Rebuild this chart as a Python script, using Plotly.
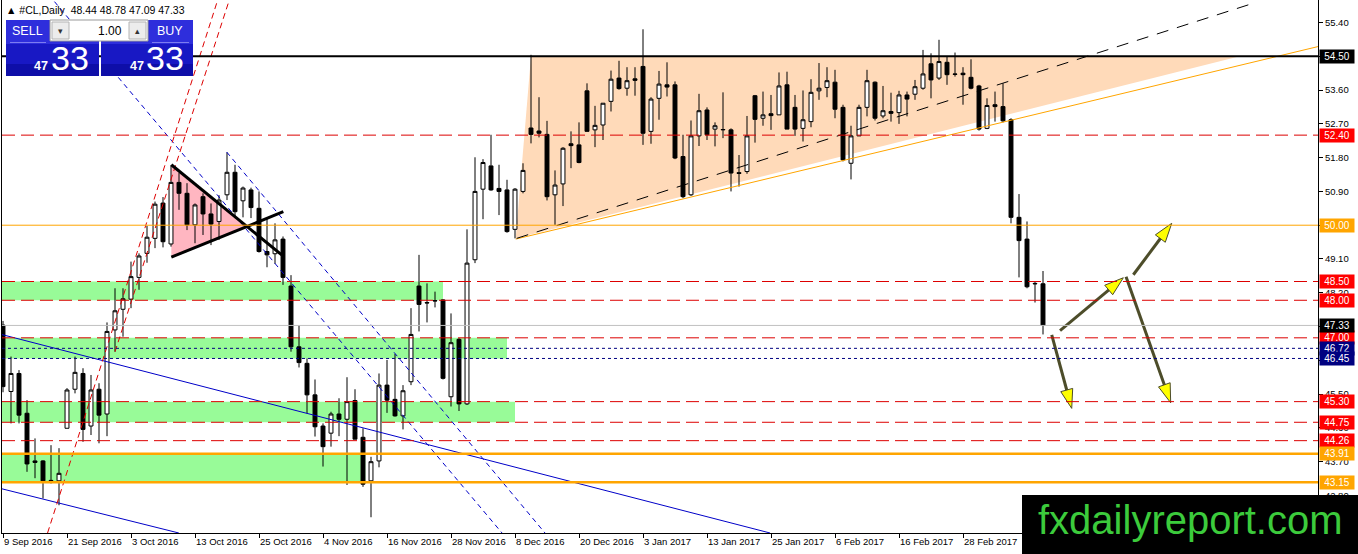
import plotly.graph_objects as go

# ---- daily bars, bar 0 = 9 Sep 2016, last bar = 48.44 48.78 47.09 47.33
OPEN = [47.34, 45.57, 46.05, 44.99, 43.72, 43.72, 43.19, 43.19, 44.59, 45.63,
        46.05, 44.65, 45.63, 44.97, 47.21, 47.76, 48.03, 48.61, 49.25, 49.65,
        50.59, 49.50, 51.14, 50.85, 50.01, 50.76, 50.30, 50.10, 50.81, 51.41,
        50.65, 50.94, 50.45, 49.30, 49.24, 49.63, 48.38, 46.76, 46.32, 45.48,
        44.65, 44.46, 44.97, 44.83, 45.33, 44.35, 43.19, 43.72, 45.74, 45.36,
        44.92, 45.83, 48.38, 47.94, 47.98, 48.01, 45.43, 46.96, 45.24, 49.08,
        50.96, 51.58, 50.98, 50.94, 49.89, 50.90, 52.59, 52.51, 52.42, 50.81,
        51.10, 52.17, 52.14, 53.58, 52.54, 52.67, 53.30, 53.92, 53.65, 53.90,
        54.23, 52.50, 53.38, 53.74, 53.74, 51.83, 50.81, 52.38, 53.07, 52.56,
        52.54, 52.54, 51.40, 51.43, 53.45, 52.85, 52.97, 52.94, 53.74, 53.14,
        52.58, 52.76, 53.58, 53.67, 53.81, 53.14, 51.65, 52.38, 53.14, 53.81,
        52.91, 53.03, 53.00, 53.47, 53.49, 53.65, 54.30, 53.92, 54.34, 54.03,
        54.05, 53.94, 53.71, 52.58, 53.21, 53.16, 52.81, 50.21, 49.63, 48.45,
        48.44]
HIGH = [47.45, 46.50, 46.14, 45.34, 44.32, 43.74, 44.14, 44.06, 45.66, 46.50,
        46.19, 46.01, 45.79, 47.41, 48.32, 48.32, 49.03, 49.25, 49.98, 50.63,
        50.75, 51.60, 51.39, 51.12, 50.58, 50.85, 50.58, 50.80, 51.94, 51.61,
        51.03, 51.00, 50.90, 50.19, 50.05, 49.70, 48.67, 47.34, 46.45, 45.89,
        44.72, 45.03, 45.39, 45.95, 45.63, 44.59, 43.83, 46.05, 46.41, 46.57,
        45.74, 47.79, 49.21, 48.45, 48.23, 48.03, 47.65, 46.99, 49.89, 51.81,
        51.76, 52.41, 51.61, 51.21, 50.99, 51.65, 54.54, 53.41, 52.78, 51.46,
        52.08, 52.50, 52.74, 53.78, 53.18, 53.25, 54.12, 54.38, 54.21, 54.21,
        55.22, 53.41, 54.11, 54.34, 53.83, 52.41, 52.79, 53.50, 53.14, 52.74,
        53.54, 52.58, 51.87, 52.91, 53.47, 53.56, 53.47, 54.07, 54.09, 53.47,
        53.59, 53.89, 54.32, 54.21, 54.14, 53.21, 52.65, 53.21, 54.14, 53.83,
        53.71, 53.53, 53.58, 53.56, 53.87, 54.67, 54.58, 54.94, 54.49, 54.60,
        54.21, 54.42, 53.74, 53.38, 53.56, 53.78, 52.85, 50.83, 50.10, 48.50,
        48.78]
LOW = [45.55, 44.72, 44.72, 43.43, 43.26, 42.72, 43.12, 42.54, 44.59, 45.52,
       44.23, 44.41, 44.19, 44.38, 46.63, 47.03, 47.79, 48.28, 49.00, 49.39,
       49.41, 49.43, 50.41, 49.87, 49.52, 49.74, 49.47, 49.61, 50.67, 50.23,
       50.21, 50.19, 49.27, 48.88, 48.97, 48.41, 46.63, 46.21, 44.99, 44.37,
       43.57, 44.10, 44.38, 43.08, 44.30, 43.03, 42.22, 43.55, 45.00, 44.90,
       44.56, 45.74, 47.17, 47.41, 47.81, 45.89, 45.17, 45.05, 45.21, 48.99,
       50.16, 50.92, 50.27, 49.80, 49.65, 50.85, 52.18, 52.34, 50.66, 50.01,
       50.51, 51.52, 51.65, 52.50, 52.08, 52.27, 53.03, 53.61, 53.45, 53.45,
       52.14, 52.17, 52.81, 53.43, 51.76, 50.72, 50.78, 52.11, 52.27, 52.10,
       52.32, 50.90, 51.03, 51.37, 52.20, 52.65, 52.54, 52.94, 52.56, 52.38,
       52.23, 52.61, 53.34, 53.41, 52.85, 51.70, 51.22, 52.38, 52.90, 52.79,
       52.85, 52.76, 52.70, 52.90, 53.34, 53.61, 53.38, 53.87, 53.74, 53.96,
       53.21, 53.62, 52.52, 52.56, 52.76, 52.74, 50.05, 48.61, 48.32, 47.94,
       47.09]
CLOSE = [45.70, 46.05, 44.94, 43.64, 43.68, 43.19, 43.20, 43.39, 45.61, 46.08,
         44.56, 45.61, 44.94, 47.17, 47.72, 48.04, 48.63, 49.18, 49.68, 50.56,
         49.56, 51.14, 50.85, 50.01, 50.54, 50.30, 50.03, 50.67, 51.41, 50.36,
         50.99, 50.47, 49.30, 49.21, 49.61, 48.61, 46.76, 46.34, 45.48, 44.63,
         44.10, 44.97, 44.83, 45.30, 44.30, 43.10, 43.70, 45.74, 45.34, 44.92,
         45.59, 47.09, 47.89, 47.93, 47.99, 45.92, 46.87, 45.24, 48.99, 50.90,
         51.67, 50.94, 50.90, 49.83, 50.96, 51.46, 52.42, 52.45, 50.76, 51.07,
         52.05, 52.12, 51.67, 52.50, 52.66, 53.25, 53.89, 53.64, 53.85, 53.86,
         52.45, 53.36, 53.76, 53.68, 51.79, 50.76, 52.38, 53.05, 52.41, 52.65,
         52.55, 51.39, 51.38, 52.38, 52.82, 52.94, 52.92, 53.71, 52.56, 52.56,
         52.81, 53.54, 53.65, 53.85, 53.09, 51.74, 52.38, 53.14, 53.85, 52.85,
         53.05, 52.98, 53.47, 53.36, 53.69, 54.03, 53.87, 54.36, 54.01, 54.02,
         54.01, 53.65, 52.56, 53.19, 53.16, 52.78, 50.21, 49.59, 48.36, 48.44,
         47.33]

TICK_BARS = [0, 8, 16, 24, 32, 40, 48, 56, 64, 72, 80, 88, 96, 104, 112, 120]
TICK_LABELS = ['9 Sep 2016', '21 Sep 2016', '3 Oct 2016', '13 Oct 2016',
               '25 Oct 2016', '4 Nov 2016', '16 Nov 2016', '28 Nov 2016',
               '8 Dec 2016', '20 Dec 2016', '3 Jan 2017', '13 Jan 2017',
               '25 Jan 2017', '6 Feb 2017', '16 Feb 2017', '28 Feb 2017']
PRICE_TICKS = [55.40, 54.50, 53.60, 52.70, 51.80, 50.90, 50.00, 49.10, 48.20,
               47.30, 46.40, 45.50, 44.60, 43.70, 42.80]

# horizontal levels
BLACK_LEVELS = [54.50]
RED_LEVELS = [52.40, 48.50, 48.00, 47.00, 45.30, 44.75, 44.26]
ORANGE_THIN = [50.00]
ORANGE_THICK = [43.91, 43.15]
NAVY_LEVELS = [46.72, 46.45]
LAST_PRICE = 47.33

# green zones: low, high, last bar covered
GREEN_LO = [48.00, 46.45, 44.75, 43.15]
GREEN_HI = [48.50, 47.00, 45.30, 43.91]
GREEN_END = [55.0, 63.0, 64.0, 45.3]

# drawn objects: (bar0, price0, bar1, price1)
BLUE_DASHED = [(5.71, 56.14, 62.38, 41.80), (27.96, 51.95, 67.75, 41.80)]
BLUE_SOLID = [(-0.38, 47.10, 95.88, 41.80), (-0.38, 42.99, 21.98, 41.80)]
RED_STEEP = [(5.57, 41.80, 27.24, 56.27), (14.0, 46.63, 28.7, 56.27)]
WEDGE_LINES = [(21.04, 51.61, 34.84, 49.21), (21.04, 49.15, 35.04, 50.36)]
PINK_K = [21.04, 30.49, 21.04]
PINK_P = [51.61, 49.97, 49.15]
PEACH_K = [66.0, 154.6, 64.09]
PEACH_P = [54.50, 54.50, 49.65]
ORANGE_TREND = (64.09, 49.63, 164.4, 54.76)
BLACK_TREND = (64.21, 49.65, 156.1, 55.90)
ARROWS = [(131.09, 47.08, 133.59, 45.12), (132.13, 47.19, 140.04, 48.60),
          (141.29, 48.68, 146.09, 50.05), (140.38, 48.63, 145.96, 45.27)]

W, H = 1358, 554
ML, MR, MT, MB = 2, 40, 0, 21
PW, PH = W - ML - MR, H - MT - MB
FONT = 'Liberation Sans, DejaVu Sans, Arial, sans-serif'
RED = '#DD0000'
ORANGE = '#FFA500'
NAVY = '#000080'
BLUE = '#0000C8'


def px(x):
    return (x - ML) / PW


def py(y):
    return (PH + MT - y) / PH


fig = go.Figure()
shapes = []
annotations = []

# fills behind the candles
for lo, hi, end in zip(GREEN_LO, GREEN_HI, GREEN_END):
    shapes.append(dict(type='rect', xref='x', yref='y', x0=-2, x1=end,
                       y0=lo, y1=hi, fillcolor='#98FB98', line_width=0,
                       layer='below'))


def poly(ks, ps):
    pts = ' L'.join(f'{k},{p}' for k, p in zip(ks, ps))
    return 'M' + pts + ' Z'


shapes.append(dict(type='path', xref='x', yref='y', path=poly(PEACH_K, PEACH_P),
                   fillcolor='#FFDAB9', line_width=0, layer='below'))
shapes.append(dict(type='path', xref='x', yref='y', path=poly(PINK_K, PINK_P),
                   fillcolor='#FFB6C1', line_width=0, layer='below'))

bars = list(range(len(OPEN)))
fig.add_trace(go.Candlestick(
    x=bars, open=OPEN, high=HIGH, low=LOW, close=CLOSE,
    increasing=dict(fillcolor='white', line=dict(color='black', width=1)),
    decreasing=dict(fillcolor='black', line=dict(color='black', width=1)),
    whiskerwidth=0, hoverinfo='skip', showlegend=False,
))


def seg(t, color, width, dash='solid'):
    k0, p0, k1, p1 = t
    fig.add_trace(go.Scatter(x=[k0, k1], y=[p0, p1], mode='lines',
                             line=dict(color=color, width=width, dash=dash),
                             hoverinfo='skip', showlegend=False))


for t in BLUE_SOLID:
    seg(t, BLUE, 1)
for t in BLUE_DASHED:
    seg(t, BLUE, 1, '5px,4px')
for t in RED_STEEP:
    seg(t, RED, 1, '6px,4px')
seg(ORANGE_TREND, ORANGE, 1)
seg(BLACK_TREND, 'black', 1, '12px,9px')
for t in WEDGE_LINES:
    seg(t, 'black', 3)

for k0, p0, k1, p1 in ARROWS:
    fig.add_trace(go.Scatter(
        x=[k0, k1], y=[p0, p1], mode='lines+markers',
        line=dict(color='#4D4D2A', width=3),
        marker=dict(symbol='arrow', size=20, angleref='previous',
                    color='#FFFF00', line=dict(color='#4D4D2A', width=1)),
        hoverinfo='skip', showlegend=False))


def hline(v, color, width, dash='solid'):
    shapes.append(dict(type='line', xref='paper', yref='y', x0=0, x1=1,
                       y0=v, y1=v, layer='above',
                       line=dict(color=color, width=width, dash=dash)))


hline(LAST_PRICE, '#C0C0C0', 1)
for v in BLACK_LEVELS:
    hline(v, 'black', 2)
for v in RED_LEVELS:
    hline(v, RED, 1, '13px,6px')
for v in ORANGE_THIN:
    hline(v, ORANGE, 1)
for v in ORANGE_THICK:
    hline(v, ORANGE, 2.5)
for v in NAVY_LEVELS:
    hline(v, NAVY, 1, '3px,3px')


def tag(v, bg):
    annotations.append(dict(x=1, xref='paper', xanchor='left', xshift=1,
                            y=v, yref='y', yanchor='middle', text=f'{v:.2f}',
                            showarrow=False, bgcolor=bg, borderpad=1,
                            width=32, font=dict(family=FONT, size=10,
                                                color='white')))


for v in BLACK_LEVELS:
    tag(v, 'black')
for v in RED_LEVELS:
    tag(v, '#FF0000')
for v in ORANGE_THIN + ORANGE_THICK:
    tag(v, ORANGE)
for v in NAVY_LEVELS:
    tag(v, NAVY)
tag(LAST_PRICE, 'black')


# ---- one-click trading panel (screen chrome, pixel placed)
def rect(x0, y0, x1, y1, fill, line=None):
    shapes.append(dict(type='rect', xref='paper', yref='paper',
                       x0=px(x0), x1=px(x1), y0=py(y1), y1=py(y0),
                       fillcolor=fill, layer='above',
                       line=dict(color=line or fill, width=1 if line else 0)))


def text(x, y, s, size, color='white', anchor='center', bold=False):
    annotations.append(dict(x=px(x), y=py(y), xref='paper', yref='paper',
                            xanchor=anchor, yanchor='middle', showarrow=False,
                            text=f'<b>{s}</b>' if bold else s,
                            font=dict(family=FONT, size=size, color=color)))


for x0, x1 in [(6, 99), (101, 193)]:
    rect(x0, 20, x1, 76, '#1818C4')
    rect(x0, 20, x1, 44, '#2E2EDC')
    rect(x0, 64, x1, 76, '#0E0EA8')
rect(10, 42, 46, 43, '#7C7CF0')
rect(152, 42, 189, 43, '#7C7CF0')
rect(50, 20, 148, 41, 'white', '#9A9A9A')
rect(52, 22, 69, 39, '#ECECEC', '#B4B4B4')
rect(129, 22, 146, 39, '#ECECEC', '#B4B4B4')
text(27, 31, 'SELL', 12.5)
text(170, 31, 'BUY', 12.5)
text(60.5, 31, '▾', 9, '#333333')
text(137.5, 31, '▴', 9, '#333333')
text(124, 31, '1.00', 12, 'black', 'right')
text(41, 66, '47', 12.5, bold=True)
text(70, 58, '33', 34)
text(137, 66, '47', 12.5, bold=True)
text(165, 58, '33', 34)
text(4, 10, '▲ #CL,Daily  48.44 48.78 47.09 47.33', 10.5, 'black', 'left')

# ---- watermark
shapes.append(dict(type='rect', xref='paper', yref='paper', x0=px(1022),
                   x1=px(1362), y0=py(558), y1=py(495), fillcolor='black',
                   line_width=0, layer='above'))
text(1036, 520, 'fxdailyreport.com', 40, '#3CCB3C', 'left')

fig.update_layout(
    width=W, height=H,
    margin=dict(l=ML, r=MR, t=MT, b=MB, pad=0),
    paper_bgcolor='white', plot_bgcolor='white',
    shapes=shapes, annotations=annotations,
    showlegend=False,
    font=dict(family=FONT, size=9.5, color='black'),
    xaxis=dict(range=[-0.125, 164.375], showgrid=False, zeroline=False,
               rangeslider=dict(visible=False), showline=True,
               linecolor='black', linewidth=1, ticks='outside', ticklen=4,
               tickcolor='black', tickmode='array', tickvals=TICK_BARS,
               ticktext=TICK_LABELS, ticklabelposition='outside right',
               tickfont=dict(size=9.5)),
    yaxis=dict(range=[41.80, 56.00], side='right', showgrid=False,
               zeroline=False, showline=True, linecolor='black', linewidth=1,
               mirror=True, ticks='outside', ticklen=4, tickcolor='black',
               tickmode='array', tickvals=PRICE_TICKS,
               ticktext=[f'{v:.2f}' for v in PRICE_TICKS],
               tickfont=dict(size=9.5)),
)

# the page's default body margin would push the fixed-size chart off the window
fig.write_html('out.html', config={'displayModeBar': False},
               post_script="document.body.style.margin='0';"
                           "document.body.style.overflow='hidden';")
